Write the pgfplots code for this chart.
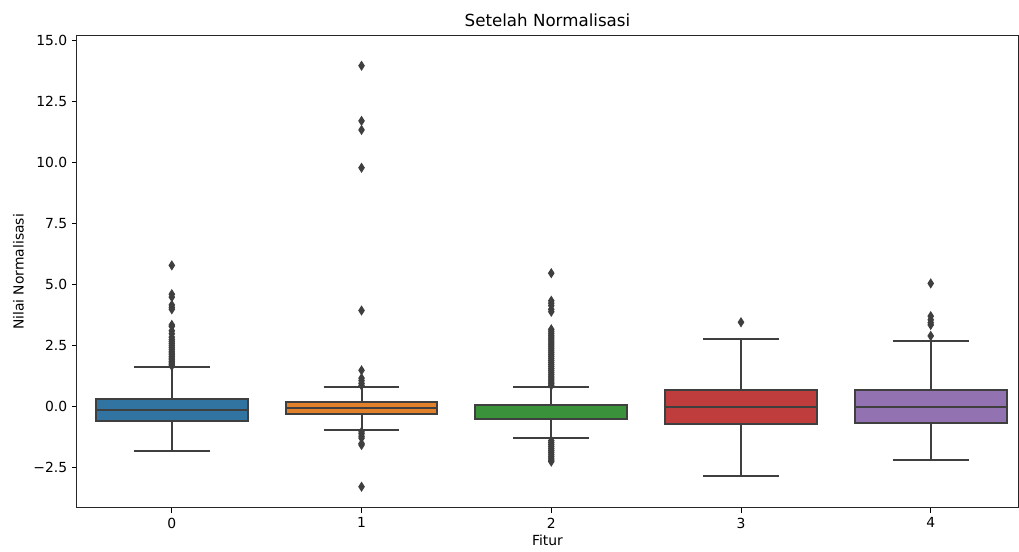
\documentclass[border=0pt]{standalone}
\usepackage{pgfplots}
\pgfplotsset{compat=1.18}
\usepgfplotslibrary{statistics}
\usepackage{fontspec}
\setmainfont{DejaVu Sans}

\definecolor{sbBlue}{HTML}{3274A1}
\definecolor{sbOrange}{HTML}{E1812C}
\definecolor{sbGreen}{HTML}{3A923A}
\definecolor{sbRed}{HTML}{C03D3E}
\definecolor{sbPurple}{HTML}{9372B2}
\definecolor{edge}{HTML}{3F3F3F}

\pgfplotsset{
  sbbox/.style={
    draw=edge, line width=1.5pt, fill=#1,
    mark=diamond*, mark size=3pt,
    mark options={fill=edge, draw=edge, line width=0.8pt, xscale=0.85, solid},
    boxplot/draw direction=y,
    boxplot/box extend=0.8, boxplot/whisker extend=0.4,
    boxplot/every median/.style={draw=edge, line width=1.5pt},
  },
}

\begin{document}
\begin{tikzpicture}
\begin{axis}[
    scale only axis,
    width=677.5pt, height=339.8pt,
    xmin=-0.5, xmax=4.46,
    ymin=-4.14, ymax=15.2,
    xtick={0,1,2,3,4},
    xticklabels={0,1,2,3,4},
    ytick={-2.5,0,2.5,5,7.5,10,12.5,15},
    yticklabels={−2.5,0.0,2.5,5.0,7.5,10.0,12.5,15.0},
    tick align=outside,
    major tick length=3.5pt,
    xtick pos=bottom, ytick pos=left,
    tick style={black, line width=0.7pt},
    axis line style={black!85, line width=0.7pt},
    ticklabel style={font=\fontsize{10}{12}\selectfont},
    title={Setelah Normalisasi},
    title style={font=\fontsize{12}{14}\selectfont, yshift=-3pt},
    xlabel={Fitur},
    ylabel={Nilai Normalisasi},
    label style={font=\fontsize{10}{12}\selectfont},
    xlabel style={yshift=2pt},
    ylabel style={yshift=0pt},
    clip=false,
]
\coordinate (sw) at (rel axis cs:0,0);
\coordinate (ne) at (rel axis cs:1,1);

\addplot[sbbox=sbBlue, boxplot prepared={draw position=0,
    median=-0.11, lower quartile=-0.57, upper quartile=0.31,
    lower whisker=-1.82, upper whisker=1.63}]
  table[row sep=\\, y index=0] {v\\
  1.68\\ 1.74\\ 1.80\\ 1.86\\ 1.93\\ 2.00\\ 2.07\\ 2.14\\ 2.21\\ 2.28\\
  2.36\\ 2.44\\ 2.52\\ 2.60\\ 2.68\\ 2.76\\ 2.86\\ 3.00\\ 3.12\\ 3.30\\
  3.36\\ 4.00\\ 4.08\\ 4.18\\ 4.50\\ 4.62\\ 5.80\\};

\addplot[sbbox=sbOrange, boxplot prepared={draw position=1,
    median=-0.04, lower quartile=-0.29, upper quartile=0.19,
    lower whisker=-0.94, upper whisker=0.82}]
  table[row sep=\\, y index=0] {v\\
  0.88\\ 0.97\\ 1.08\\ 1.18\\ 1.50\\ 3.95\\ 9.80\\ 11.35\\ 11.72\\ 13.98\\
  -1.02\\ -1.10\\ -1.20\\ -1.28\\ -1.50\\ -1.56\\ -3.27\\};

\addplot[sbbox=sbGreen, boxplot prepared={draw position=2,
    median=-0.49, lower quartile=-0.49, upper quartile=0.08,
    lower whisker=-1.28, upper whisker=0.83}]
  table[row sep=\\, y index=0] {v\\
  0.88\\ 0.95\\ 1.02\\ 1.10\\ 1.18\\ 1.26\\ 1.34\\ 1.42\\ 1.50\\ 1.58\\
  1.66\\ 1.74\\ 1.82\\ 1.90\\ 1.98\\ 2.06\\ 2.14\\ 2.22\\ 2.30\\ 2.38\\
  2.46\\ 2.54\\ 2.62\\ 2.70\\ 2.78\\ 2.86\\ 2.94\\ 3.02\\ 3.10\\ 3.18\\
  3.90\\ 4.00\\ 4.15\\ 4.25\\ 4.35\\ 5.48\\
  -1.38\\ -1.46\\ -1.54\\ -1.62\\ -1.70\\ -1.78\\ -1.86\\ -1.94\\ -2.02\\
  -2.10\\ -2.18\\ -2.24\\};

\addplot[sbbox=sbRed, boxplot prepared={draw position=3,
    median=0.01, lower quartile=-0.70, upper quartile=0.70,
    lower whisker=-2.83, upper whisker=2.79}]
  table[row sep=\\, y index=0] {v\\
  3.47\\};

\addplot[sbbox=sbPurple, boxplot prepared={draw position=4,
    median=0.01, lower quartile=-0.66, upper quartile=0.70,
    lower whisker=-2.16, upper whisker=2.69}]
  table[row sep=\\, y index=0] {v\\
  2.91\\ 3.36\\ 3.45\\ 3.57\\ 3.72\\ 5.06\\};
\end{axis}
\path (sw) ++(-55.4pt,-31pt) rectangle ([shift={(0.72pt,25.9pt)}]ne);
\end{tikzpicture}
\end{document}
